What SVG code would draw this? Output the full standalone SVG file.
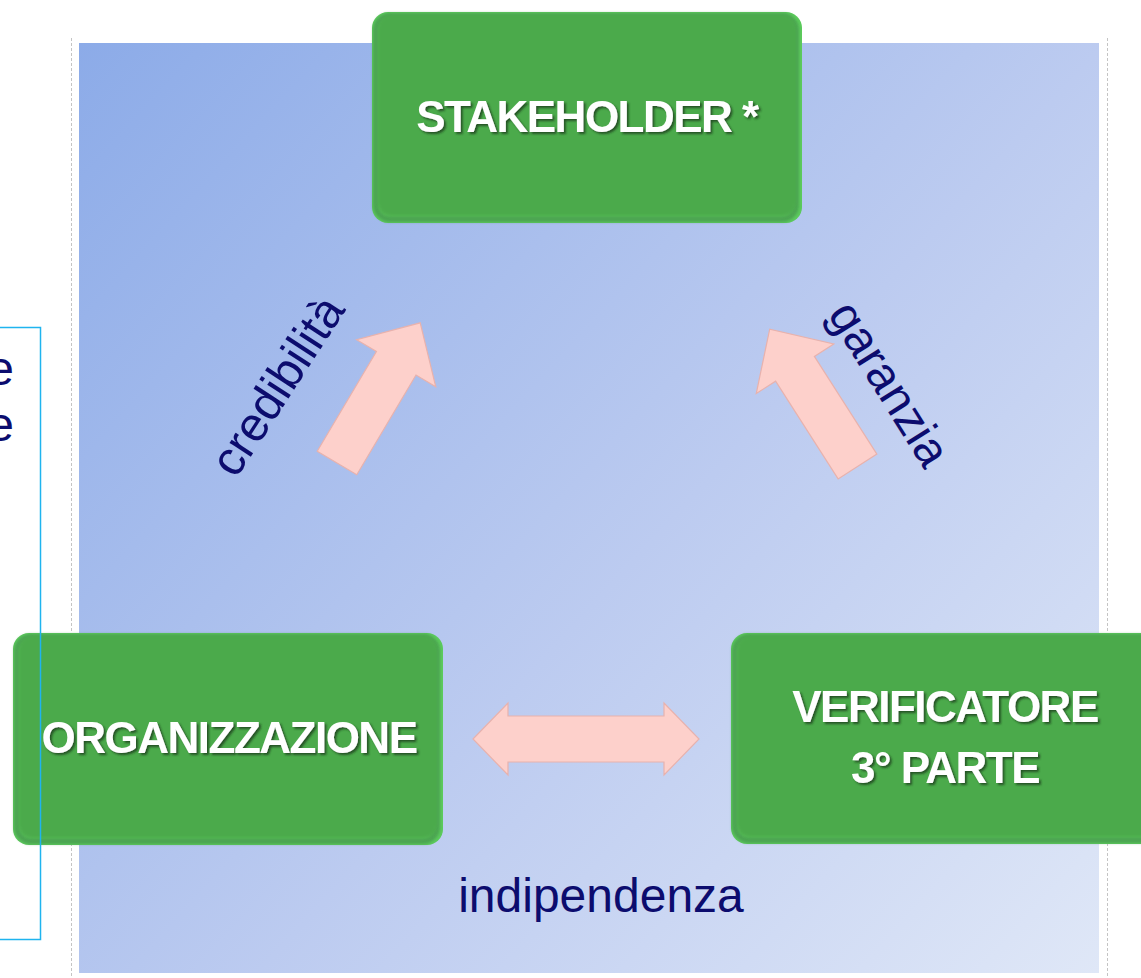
<svg xmlns="http://www.w3.org/2000/svg" width="1141" height="978" viewBox="0 0 1141 978">
<defs>
<linearGradient id="bg" gradientUnits="userSpaceOnUse" x1="79" y1="43" x2="1099" y2="973">
<stop offset="0" stop-color="#8cabe8"/>
<stop offset="0.55" stop-color="#bccbf0"/>
<stop offset="1" stop-color="#dfe7f7"/>
</linearGradient>
<filter id="soft" x="-5%" y="-5%" width="110%" height="110%">
<feGaussianBlur stdDeviation="1.8"/>
</filter>
<filter id="tshadow" x="-5%" y="-20%" width="110%" height="140%">
<feGaussianBlur in="SourceAlpha" stdDeviation="1.2"/>
<feOffset dx="1.5" dy="2" result="b"/>
<feFlood flood-color="#1c3f1c" flood-opacity="0.8"/>
<feComposite in2="b" operator="in"/>
<feMerge><feMergeNode/><feMergeNode in="SourceGraphic"/></feMerge>
</filter>
<path id="upArrow" d="M0,-23 L116,-23 L116,-46 L163,0 L116,46 L116,23 L0,23 Z"/>
</defs>
<style>
.edge{fill:#5ccb5c}
.body{fill:#4caa4c}
.shade{fill:none;stroke:#3f8a4c;stroke-width:6;opacity:0.6}
.lbl{font-family:"Liberation Sans",Arial,sans-serif;font-weight:bold;font-size:44px;fill:#ffffff;letter-spacing:-1.5px;text-anchor:middle}
.nav{font-family:"Liberation Sans",Arial,sans-serif;font-size:48px;fill:#0c0c6e}
.arr{fill:#fdd0cb;stroke:#e8b2ad;stroke-width:1.2}
.dash{stroke:#c4c4c4;stroke-width:1;stroke-dasharray:3 2;fill:none}
</style>

<rect x="79" y="43" width="1020" height="930" fill="url(#bg)"/>
<line class="dash" x1="71.5" y1="38" x2="71.5" y2="978"/>
<line class="dash" x1="1107.5" y1="38" x2="1107.5" y2="978"/>

<g id="connectors">
<use href="#upArrow" class="arr" transform="translate(337,463) rotate(-59.3)"/>
<use href="#upArrow" class="arr" transform="translate(857.5,466.5) rotate(-122.6)"/>
<path class="arr" d="M473,739 L508,703 L508,716 L664,716 L664,703 L699,739 L664,775 L664,762 L508,762 L508,775 Z"/>
<text class="nav" text-anchor="middle" transform="translate(281,388) rotate(-57)" x="0" y="12">credibilità</text>
<text class="nav" text-anchor="middle" transform="translate(886,386) rotate(58)" x="0" y="12">garanzia</text>
<text class="nav" x="601" y="912" text-anchor="middle">indipendenza</text>
</g>

<g id="node-stakeholder">
<rect class="edge" x="372" y="12" width="430" height="211" rx="16"/>
<rect class="shade" x="376" y="16" width="420" height="203" rx="14" filter="url(#soft)"/>
<rect class="body" x="378" y="15" width="418" height="201" rx="13" filter="url(#soft)"/>
<text class="lbl" x="587" y="132" filter="url(#tshadow)">STAKEHOLDER *</text>
</g>

<g id="node-organizzazione">
<rect class="edge" x="13" y="633" width="430" height="212" rx="16"/>
<rect class="shade" x="17" y="637" width="420" height="204" rx="14" filter="url(#soft)"/>
<rect class="body" x="19" y="636" width="418" height="202" rx="13" filter="url(#soft)"/>
<text class="lbl" x="229" y="753" filter="url(#tshadow)">ORGANIZZAZIONE</text>
</g>

<g id="node-verificatore">
<rect class="edge" x="731" y="633" width="440" height="211" rx="16"/>
<rect class="shade" x="735" y="637" width="430" height="203" rx="14" filter="url(#soft)"/>
<rect class="body" x="737" y="636" width="428" height="201" rx="13" filter="url(#soft)"/>
<text class="lbl" x="945" y="722" filter="url(#tshadow)">VERIFICATORE</text>
<text class="lbl" x="945" y="783" filter="url(#tshadow)">3° PARTE</text>
</g>

<g id="node-textbox">
<rect x="-20" y="327.5" width="60.5" height="612" fill="none" stroke="#1fb4ef" stroke-width="1.5"/>
<text class="nav" x="14" y="385" text-anchor="end">e</text>
<text class="nav" x="14" y="441" text-anchor="end">e</text>
</g>
</svg>
